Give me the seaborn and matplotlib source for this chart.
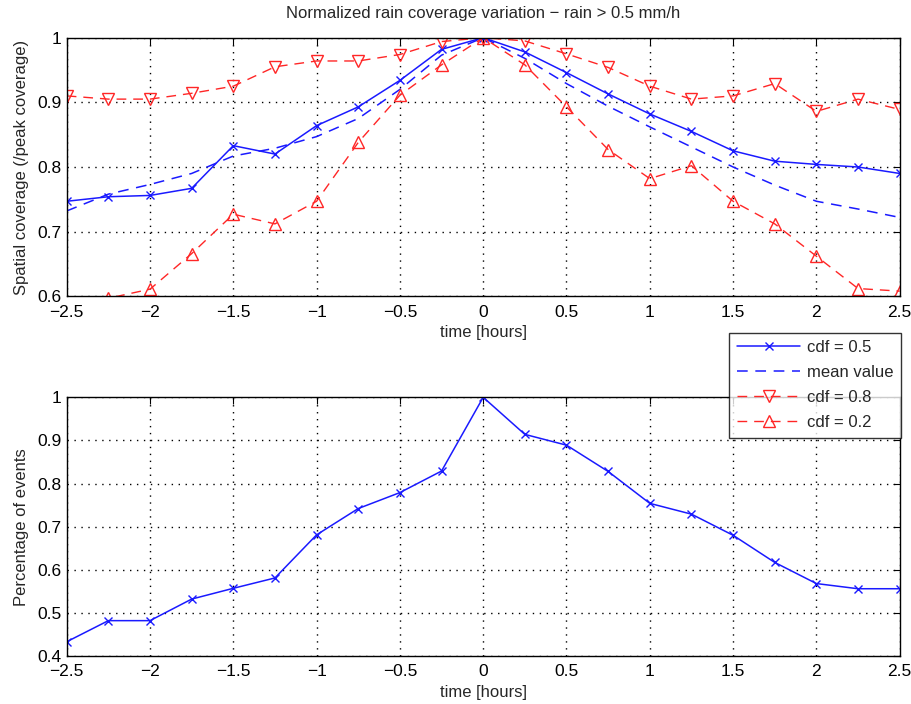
import numpy as np
import pandas as pd
import matplotlib
matplotlib.use("Agg")
import matplotlib.pyplot as plt
import seaborn as sns
from matplotlib.ticker import FuncFormatter
from matplotlib.lines import Line2D

t = [-2.5, -2.25, -2.0, -1.75, -1.5, -1.25, -1.0, -0.75, -0.5, -0.25, 0.0,
     0.25, 0.5, 0.75, 1.0, 1.25, 1.5, 1.75, 2.0, 2.25, 2.5]

cdf50 = [0.747, 0.754, 0.756, 0.767, 0.833, 0.820, 0.864, 0.893, 0.934, 0.982, 1.0,
         0.978, 0.946, 0.913, 0.882, 0.855, 0.825, 0.809, 0.804, 0.800, 0.790]
mean_value = [0.732, 0.758, 0.773, 0.790, 0.817, 0.829, 0.847, 0.875, 0.920, 0.973, 1.0,
              0.968, 0.929, 0.894, 0.862, 0.831, 0.800, 0.772, 0.747, 0.735, 0.722]
cdf80 = [0.910, 0.905, 0.905, 0.914, 0.925, 0.955, 0.964, 0.964, 0.974, 0.994, 1.0,
         0.995, 0.975, 0.954, 0.925, 0.905, 0.910, 0.929, 0.886, 0.905, 0.889]
cdf20 = [0.580, 0.597, 0.611, 0.666, 0.727, 0.712, 0.747, 0.838, 0.911, 0.958, 1.0,
         0.958, 0.893, 0.827, 0.782, 0.802, 0.747, 0.712, 0.662, 0.612, 0.608]
events = [0.433, 0.482, 0.482, 0.532, 0.557, 0.581, 0.681, 0.742, 0.779, 0.829, 1.0,
          0.914, 0.889, 0.828, 0.754, 0.729, 0.680, 0.617, 0.568, 0.556, 0.556]

title = "Normalized rain coverage variation \u2212 rain > 0.5 mm/h"
xlabel = "time [hours]"
ylabel_top = "Spatial coverage (/peak coverage)"
ylabel_bot = "Percentage of events"
legend_labels = ["cdf = 0.5", "mean value", "cdf = 0.8", "cdf = 0.2"]

sns.set_style("white")
plt.rcParams['font.family'] = ['Liberation Sans', 'DejaVu Sans']
plt.rcParams['axes.unicode_minus'] = True

fig = plt.figure(figsize=(9.12, 7.04), dpi=100)
W, H = 912, 704
ax1 = fig.add_axes([66.7 / W, 1 - 296.3 / H, (899.7 - 66.7) / W, (296.3 - 37.7) / H])
ax2 = fig.add_axes([66.7 / W, 1 - 656 / H, (899.7 - 66.7) / W, (656 - 397.3) / H])

blue = (0.1, 0.1, 1.0)
red = (1.0, 0.15, 0.15)
dash = (0, (7, 5))

df = pd.DataFrame({"t": t, "cdf50": cdf50, "mean": mean_value,
                   "cdf80": cdf80, "cdf20": cdf20, "events": events})

xkw = dict(marker="x", markersize=6, markeredgewidth=1.0, markeredgecolor=blue)
tkw = dict(markersize=8.5, markerfacecolor="none", markeredgecolor=red, markeredgewidth=1.0)

sns.lineplot(data=df, x="t", y="cdf50", ax=ax1, color=blue, lw=1.1, linestyle="-", **xkw)
sns.lineplot(data=df, x="t", y="mean", ax=ax1, color=blue, lw=1.1, linestyle=dash)
sns.lineplot(data=df, x="t", y="cdf80", ax=ax1, color=red, lw=1.0, linestyle=dash,
             marker="v", **tkw)
sns.lineplot(data=df, x="t", y="cdf20", ax=ax1, color=red, lw=1.0, linestyle=dash,
             marker="^", **tkw)
sns.lineplot(data=df, x="t", y="events", ax=ax2, color=blue, lw=1.1, linestyle="-", **xkw)

fmt = FuncFormatter(lambda v, p: ("%g" % round(v, 3)).replace("-", "\u2212"))

for ax, ylim, yt, yl in [(ax1, (0.6, 1.0), np.arange(0.6, 1.01, 0.1), ylabel_top),
                         (ax2, (0.4, 1.0), np.arange(0.4, 1.01, 0.1), ylabel_bot)]:
    ax.set_xlim(-2.5, 2.5)
    ax.set_ylim(*ylim)
    ax.set_xticks(np.arange(-2.5, 2.51, 0.5))
    ax.set_yticks(yt)
    ax.xaxis.set_major_formatter(fmt)
    ax.yaxis.set_major_formatter(fmt)
    ax.grid(True, color="black", linestyle=(0, (1, 4)), linewidth=1.0)
    ax.tick_params(direction="in", length=5, width=0.8, top=True, right=True,
                   labelsize=12.5, colors="black")
    ax.tick_params(axis="x", pad=6)
    ax.tick_params(axis="y", pad=4)
    for s in ax.spines.values():
        s.set_color("black")
        s.set_linewidth(1.0)
    ax.set_xlabel(xlabel, fontsize=12, labelpad=4)
    ax.set_ylabel(yl, fontsize=12, labelpad=6)
    ax.set_axisbelow(True)

ax1.set_title(title, fontsize=12, pad=14)

handles = [
    Line2D([], [], color=blue, lw=1.1, linestyle="-", **xkw),
    Line2D([], [], color=blue, lw=1.1, linestyle=dash),
    Line2D([], [], color=red, lw=1.0, linestyle=dash, marker="v", **tkw),
    Line2D([], [], color=red, lw=1.0, linestyle=dash, marker="^", **tkw),
]
leg = fig.legend(handles, legend_labels, loc="upper right",
                 bbox_to_anchor=(901 / W, 1 - 332.7 / H), fontsize=12,
                 frameon=True, fancybox=False, handlelength=3.8, borderpad=0.45,
                 labelspacing=0.6, handletextpad=0.4, borderaxespad=0)
leg.get_frame().set_edgecolor("black")
leg.get_frame().set_linewidth(1.0)

fig.savefig("out.png", dpi=100, facecolor="white")
